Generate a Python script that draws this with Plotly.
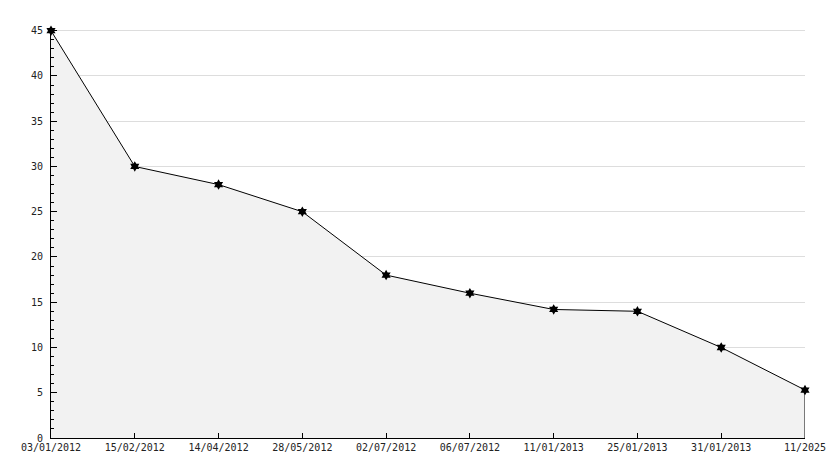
import plotly.graph_objects as go

categories = ["03/01/2012", "15/02/2012", "14/04/2012", "28/05/2012", "02/07/2012",
              "06/07/2012", "11/01/2013", "25/01/2013", "31/01/2013", "11/2025"]
values = [45, 30, 28, 25, 18, 16, 14.2, 14, 10, 5.3]

font = dict(family="DejaVu Sans Mono", size=10, color="#222222")

fig = go.Figure()
fig.add_trace(go.Scatter(
    x=categories, y=values, mode="lines+markers",
    fill="tozeroy", fillcolor="#f2f2f2",
    line=dict(color="black", width=1),
    marker=dict(symbol="hexagram", size=8, color="black"),
    cliponaxis=False, showlegend=False, hoverinfo="skip",
))
# closing vertical edge at the last point
fig.add_trace(go.Scatter(
    x=[categories[-1], categories[-1]], y=[0, values[-1]], mode="lines",
    line=dict(color="black", width=1), showlegend=False, cliponaxis=False,
    hoverinfo="skip",
))

fig.update_layout(
    width=834, height=468,
    margin=dict(l=51, r=29, t=28, b=30, autoexpand=False),
    paper_bgcolor="white", plot_bgcolor="white",
    font=font,
    xaxis=dict(
        type="category", range=[0, len(categories) - 1],
        showgrid=False, showline=True, linecolor="black", linewidth=1,
        ticks="inside", ticklen=5, tickcolor="black", tickfont=font,
        zeroline=False, automargin=False,
    ),
    yaxis=dict(
        range=[0, 45.3], dtick=5, tick0=0,
        showgrid=True, gridcolor="#dddddd", gridwidth=1,
        showline=True, linecolor="black", linewidth=1,
        ticks="inside", ticklen=6, tickcolor="black", tickfont=font,
        ticklabelstandoff=5,
        minor=dict(dtick=1, ticks="inside", ticklen=3, tickcolor="black", showgrid=False),
        zeroline=False, automargin=False,
    ),
)
fig.write_html("out.html", config={"displayModeBar": False},
               post_script="document.body.style.margin='0';")
